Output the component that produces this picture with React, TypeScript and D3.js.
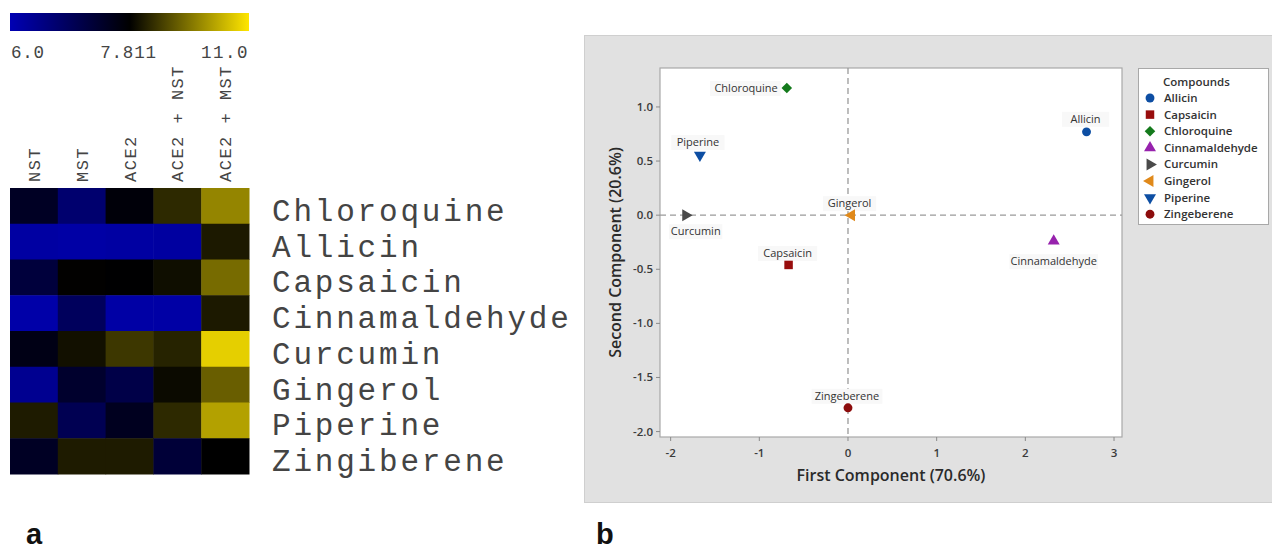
import React from "react";
import * as d3 from "d3";

// ---------- Heatmap data (panel a) ----------
const conditions = ["NST", "MST", "ACE2", "ACE2 + NST", "ACE2 + MST"];
const compoundsHeat = [
  "Chloroquine",
  "Allicin",
  "Capsaicin",
  "Cinnamaldehyde",
  "Curcumin",
  "Gingerol",
  "Piperine",
  "Zingiberene",
];
const chloroquineRow = [7.45, 6.7, 7.72, 8.38, 9.66];
const allicinRow = [6.18, 6.15, 6.18, 6.2, 8.16];
const capsaicinRow = [7.21, 7.83, 7.8, 8.0, 9.3];
const cinnamaldehydeRow = [6.12, 6.89, 6.15, 6.15, 8.16];
const curcuminRow = [7.6, 8.03, 8.58, 8.29, 10.68];
const gingerolRow = [6.36, 7.36, 7.09, 7.95, 9.12];
const piperineRow = [8.19, 6.99, 7.5, 8.38, 10.05];
const zingibereneRow = [7.45, 8.19, 8.19, 7.25, 7.81];
const heatRows = [
  chloroquineRow,
  allicinRow,
  capsaicinRow,
  cinnamaldehydeRow,
  curcuminRow,
  gingerolRow,
  piperineRow,
  zingibereneRow,
];
const colorStops = [6.0, 7.811, 11.0];
const colorStopLabels = ["6.0", "7.811", "11.0"];

// ---------- PCA data (panel b) ----------
const pcaCompounds = [
  "Allicin",
  "Capsaicin",
  "Chloroquine",
  "Cinnamaldehyde",
  "Curcumin",
  "Gingerol",
  "Piperine",
  "Zingeberene",
];
const firstComponent = [2.69, -0.67, -0.69, 2.32, -1.83, 0.04, -1.67, 0.0];
const secondComponent = [0.77, -0.46, 1.175, -0.24, 0.0, 0.0, 0.555, -1.78];
const xTicks = [-2, -1, 0, 1, 2, 3];
const yTicks = [1.0, 0.5, 0.0, -0.5, -1.0, -1.5, -2.0];

// ---------- styles ----------
const markerStyle: Record<string, { shape: string; color: string }> = {
  Allicin: { shape: "circle", color: "#0d4ea3" },
  Capsaicin: { shape: "square", color: "#980d0d" },
  Chloroquine: { shape: "diamond", color: "#147a1c" },
  Cinnamaldehyde: { shape: "up", color: "#9722ad" },
  Curcumin: { shape: "right", color: "#4a4a4a" },
  Gingerol: { shape: "left", color: "#e0891a" },
  Piperine: { shape: "down", color: "#0d4ea3" },
  Zingeberene: { shape: "circle", color: "#8c0c0c" },
};
const labelPlacement: Record<string, { dx: number; dy: number; anchor: string }> = {
  Allicin: { dx: -1, dy: -9, anchor: "middle" },
  Capsaicin: { dx: -1, dy: -8, anchor: "middle" },
  Chloroquine: { dx: -9, dy: 4, anchor: "end" },
  Cinnamaldehyde: { dx: 0, dy: 24, anchor: "middle" },
  Curcumin: { dx: 10, dy: 20, anchor: "middle" },
  Gingerol: { dx: -2, dy: -8, anchor: "middle" },
  Piperine: { dx: -2, dy: -9, anchor: "middle" },
  Zingeberene: { dx: -1, dy: -8, anchor: "middle" },
};

function symbolPath(shape: string): { d: string; rot: number } {
  const tri = d3.symbol().type(d3.symbolTriangle).size(62)();
  switch (shape) {
    case "circle":
      return { d: d3.symbol().type(d3.symbolCircle).size(62)()!, rot: 0 };
    case "square":
      return { d: d3.symbol().type(d3.symbolSquare).size(72)()!, rot: 0 };
    case "diamond":
      return { d: d3.symbol().type(d3.symbolSquare).size(56)()!, rot: 45 };
    case "up":
      return { d: tri!, rot: 0 };
    case "down":
      return { d: tri!, rot: 180 };
    case "right":
      return { d: tri!, rot: 90 };
    case "left":
      return { d: tri!, rot: -90 };
  }
  return { d: "", rot: 0 };
}

const MONO = "'Courier New', 'Liberation Mono', monospace";
const SANS = "'Open Sans', 'Noto Sans', sans-serif";

export default function App() {
  // ---- heatmap geometry ----
  const hx0 = 10, hx1 = 249, hy0 = 188, hy1 = 474;
  const xBand = d3.scaleBand().domain(conditions).range([hx0, hx1]);
  const yBand = d3.scaleBand().domain(compoundsHeat).range([hy0, hy1]);
  const color = d3
    .scaleLinear<string>()
    .domain(colorStops)
    .range(["#0000b4", "#000000", "#ffe600"])
    .clamp(true);

  // ---- PCA geometry ----
  const px0 = 660, px1 = 1122, py0 = 68, py1 = 437;
  const xs = d3.scaleLinear().domain([-2.12, 3.09]).range([px0, px1]);
  const ys = d3.scaleLinear().domain([1.36, -2.05]).range([py0, py1]);

  const legX = 1138, legY = 68, legW = 130, legH = 156;

  return (
    <div style={{ position: "absolute", left: 0, top: 0 }}>
      <svg width={1272} height={553} style={{ display: "block", background: "#fff" }}>
        <defs>
          <linearGradient id="cbar" x1="0" x2="1" y1="0" y2="0">
            <stop offset="0" stopColor={color(colorStops[0])} />
            <stop offset="0.5" stopColor={color(colorStops[1])} />
            <stop offset="1" stopColor={color(colorStops[2])} />
          </linearGradient>
        </defs>

        {/* ===== Panel a ===== */}
        <rect x={hx0} y={13} width={hx1 - hx0} height={18} fill="url(#cbar)" />
        {colorStopLabels.map((t, i) => (
          <text
            key={t}
            x={i === 0 ? hx0 + 1 : i === 1 ? 128.5 : hx1}
            y={58}
            textAnchor={i === 0 ? "start" : i === 1 ? "middle" : "end"}
            fontFamily={MONO}
            fontSize={17.5}
            letterSpacing={i === 2 ? 1.5 : 0.8}
            fill="#444"
          >
            {t}
          </text>
        ))}
        {conditions.map((c) => {
          const cx = xBand(c)! + xBand.bandwidth() / 2;
          return (
            <text
              key={c}
              transform={`translate(${cx + 6},182) rotate(-90)`}
              fontFamily={MONO}
              fontSize={17}
              letterSpacing={1.5}
              fill="#444"
            >
              {c}
            </text>
          );
        })}
        {heatRows.map((row, ri) =>
          row.map((v, ci) => (
            <rect
              key={`${ri}-${ci}`}
              x={xBand(conditions[ci])!}
              y={yBand(compoundsHeat[ri])!}
              width={xBand.bandwidth() + 0.5}
              height={yBand.bandwidth() + 0.5}
              fill={color(v)}
            />
          ))
        )}
        {compoundsHeat.map((c) => (
          <text
            key={c}
            x={272}
            y={yBand(c)! + yBand.bandwidth() / 2 + 15}
            fontFamily={MONO}
            fontSize={31}
            letterSpacing={2.8}
            fill="#444"
          >
            {c}
          </text>
        ))}

        {/* ===== Panel b ===== */}
        <rect x={584.5} y={35.5} width={700} height={467} fill="#e1e1e1" stroke="#cfcfcf" />
        <rect x={px0} y={py0} width={px1 - px0} height={py1 - py0} fill="#fff" stroke="#a8a8a8" strokeWidth={1.2} />
        {/* reference lines */}
        <line x1={xs(0)} x2={xs(0)} y1={py0} y2={py1} stroke="#9a9a9a" strokeWidth={1.3} strokeDasharray="6,4" />
        <line x1={px0} x2={px1} y1={ys(0)} y2={ys(0)} stroke="#9a9a9a" strokeWidth={1.3} strokeDasharray="6,4" />
        {/* y axis */}
        {yTicks.map((t) => (
          <g key={`y${t}`}>
            <line x1={px0 - 4} x2={px0} y1={ys(t)} y2={ys(t)} stroke="#8a8a8a" />
            <text x={px0 - 7} y={ys(t) + 4} textAnchor="end" fontFamily={SANS} fontSize={11.5} fontWeight={600} fill="#3a3a3a">
              {t.toFixed(1)}
            </text>
          </g>
        ))}
        {/* x axis */}
        {xTicks.map((t) => (
          <g key={`x${t}`}>
            <line x1={xs(t)} x2={xs(t)} y1={py1} y2={py1 + 4} stroke="#8a8a8a" />
            <text x={xs(t)} y={py1 + 20} textAnchor="middle" fontFamily={SANS} fontSize={11.5} fontWeight={600} fill="#3a3a3a">
              {String(t)}
            </text>
          </g>
        ))}
        <text
          x={(px0 + px1) / 2}
          y={481}
          textAnchor="middle"
          fontFamily={SANS}
          fontWeight={600}
          fontSize={16}
          fill="#2a2a2a"
        >
          First Component (70.6%)
        </text>
        <text
          transform={`translate(621,${(py0 + py1) / 2}) rotate(-90)`}
          textAnchor="middle"
          fontFamily={SANS}
          fontWeight={600}
          fontSize={16}
          fill="#2a2a2a"
        >
          Second Component (20.6%)
        </text>

        {/* points + labels */}
        {pcaCompounds.map((name, i) => {
          const x = xs(firstComponent[i]);
          const y = ys(secondComponent[i]);
          const st = markerStyle[name];
          const sp = symbolPath(st.shape);
          const lp = labelPlacement[name];
          const approxW = name.length * 5.9 + 6;
          const lx = x + lp.dx;
          const ly = y + lp.dy;
          const bx = lp.anchor === "end" ? lx - approxW + 3 : lx - approxW / 2;
          return (
            <g key={name}>
              <rect x={bx} y={ly - 11} width={approxW} height={15} fill="#f8f8f8" />
              <text x={lx} y={ly} textAnchor={lp.anchor} fontFamily={SANS} fontSize={11} fill="#333">
                {name}
              </text>
              <path d={sp.d} transform={`translate(${x},${y}) rotate(${sp.rot})`} fill={st.color} />
            </g>
          );
        })}

        {/* legend */}
        <rect x={legX + 0.5} y={legY + 0.5} width={legW} height={legH} fill="#fff" stroke="#a8a8a8" />
        <text x={1163} y={86} fontFamily={SANS} fontSize={11.5} fontWeight={600} fill="#333">
          Compounds
        </text>
        {pcaCompounds.map((name, i) => {
          const cy = 98 + i * 16.6;
          const st = markerStyle[name];
          const sp = symbolPath(st.shape);
          return (
            <g key={`leg${name}`}>
              <path d={sp.d} transform={`translate(1150,${cy}) rotate(${sp.rot})`} fill={st.color} />
              <text x={1164} y={cy + 4} fontFamily={SANS} fontSize={11.5} fontWeight={600} fill="#333">
                {name}
              </text>
            </g>
          );
        })}

        {/* panel letters */}
        <text x={26} y={544} fontFamily="'Liberation Sans', Arial, sans-serif" fontWeight={700} fontSize={29} fill="#111">
          a
        </text>
        <text x={596} y={544} fontFamily="'Liberation Sans', Arial, sans-serif" fontWeight={700} fontSize={29} fill="#111">
          b
        </text>
      </svg>
    </div>
  );
}
